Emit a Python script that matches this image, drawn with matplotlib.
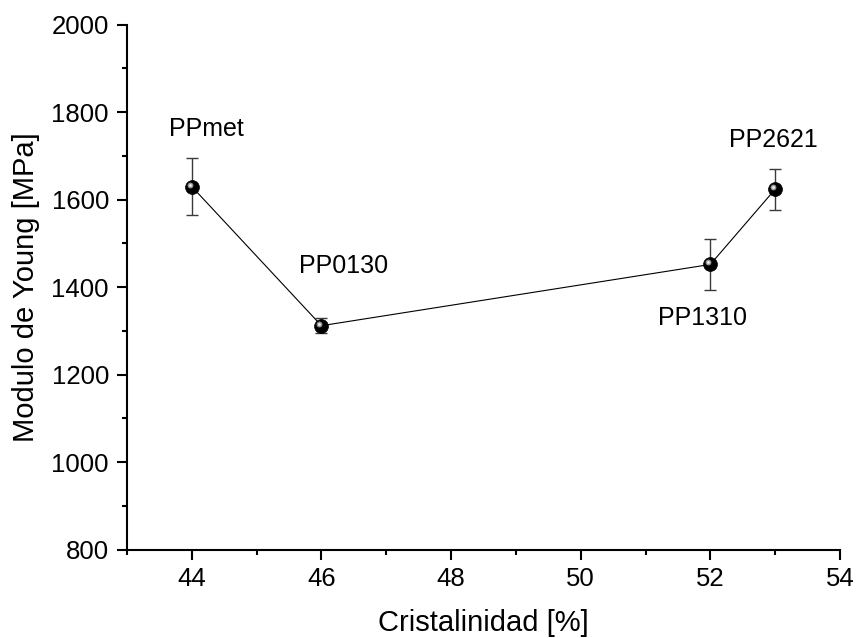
import matplotlib
matplotlib.use("Agg")
import matplotlib.pyplot as plt
from matplotlib.ticker import MultipleLocator
import matplotlib.transforms as mtransforms

# Crystallinity (%) and Young's modulus (MPa) with standard deviation
cristalinidad = [44, 46, 52, 53]
modulo = [1630, 1312, 1452, 1624]
desviacion = [66, 17, 58, 47]
muestras = ["PPmet", "PP0130", "PP1310", "PP2621"]
# label offsets in pixels (dx, dy) relative to each point
offsets = [(15, 58), (22, 60), (-8, -54), (-2, 49)]

plt.rcParams["font.family"] = ["Liberation Sans", "DejaVu Sans"]

fig = plt.figure(figsize=(8.58, 6.38), dpi=100)
ax = fig.add_axes([0.148, 0.1384, 0.831, 0.8229])

ax.errorbar(cristalinidad, modulo, yerr=desviacion, fmt="none",
            ecolor="#3a3a3a", elinewidth=1.0, capsize=4, capthick=1.0, zorder=2)
ax.plot(cristalinidad, modulo, "-", color="black", lw=0.8, zorder=3)
# sphere-like markers: dark ball with a small light highlight
ax.plot(cristalinidad, modulo, "o", ms=10, mfc="black", mec="black", mew=0.5, zorder=4)
hl = ax.transData + mtransforms.ScaledTranslation(-2 / 100, 2 / 100, fig.dpi_scale_trans)
ax.plot(cristalinidad, modulo, "o", ms=4.2, mfc="#a8a8a8", mec="none", alpha=0.9,
        transform=hl, zorder=5)
ax.plot(cristalinidad, modulo, "o", ms=2.0, mfc="#f0f0f0", mec="none",
        transform=hl, zorder=6)

for x, y, name, (dx, dy) in zip(cristalinidad, modulo, muestras, offsets):
    ax.annotate(name, (x, y), xytext=(dx, dy), textcoords="offset pixels",
                ha="center", va="center", fontsize=18)

ax.set_xlim(43, 54)
ax.set_ylim(800, 2000)
ax.xaxis.set_major_locator(MultipleLocator(2))
ax.xaxis.set_minor_locator(MultipleLocator(1))
ax.yaxis.set_major_locator(MultipleLocator(200))
ax.yaxis.set_minor_locator(MultipleLocator(100))
ax.set_xticks([44, 46, 48, 50, 52, 54])

for side in ("top", "right"):
    ax.spines[side].set_visible(False)
for side in ("left", "bottom"):
    ax.spines[side].set_linewidth(1.5)

ax.tick_params(which="major", direction="out", length=7, width=1.5, labelsize=18.5)
ax.tick_params(axis="x", which="major", pad=5.5)
ax.tick_params(axis="y", which="major", pad=6)
ax.tick_params(which="minor", direction="out", length=3.6, width=1.5)

ax.set_xlabel("Cristalinidad [%]", fontsize=21, labelpad=13)
ax.set_ylabel("Modulo de Young [MPa]", fontsize=21, labelpad=8)

fig.savefig("out.png", dpi=100)
